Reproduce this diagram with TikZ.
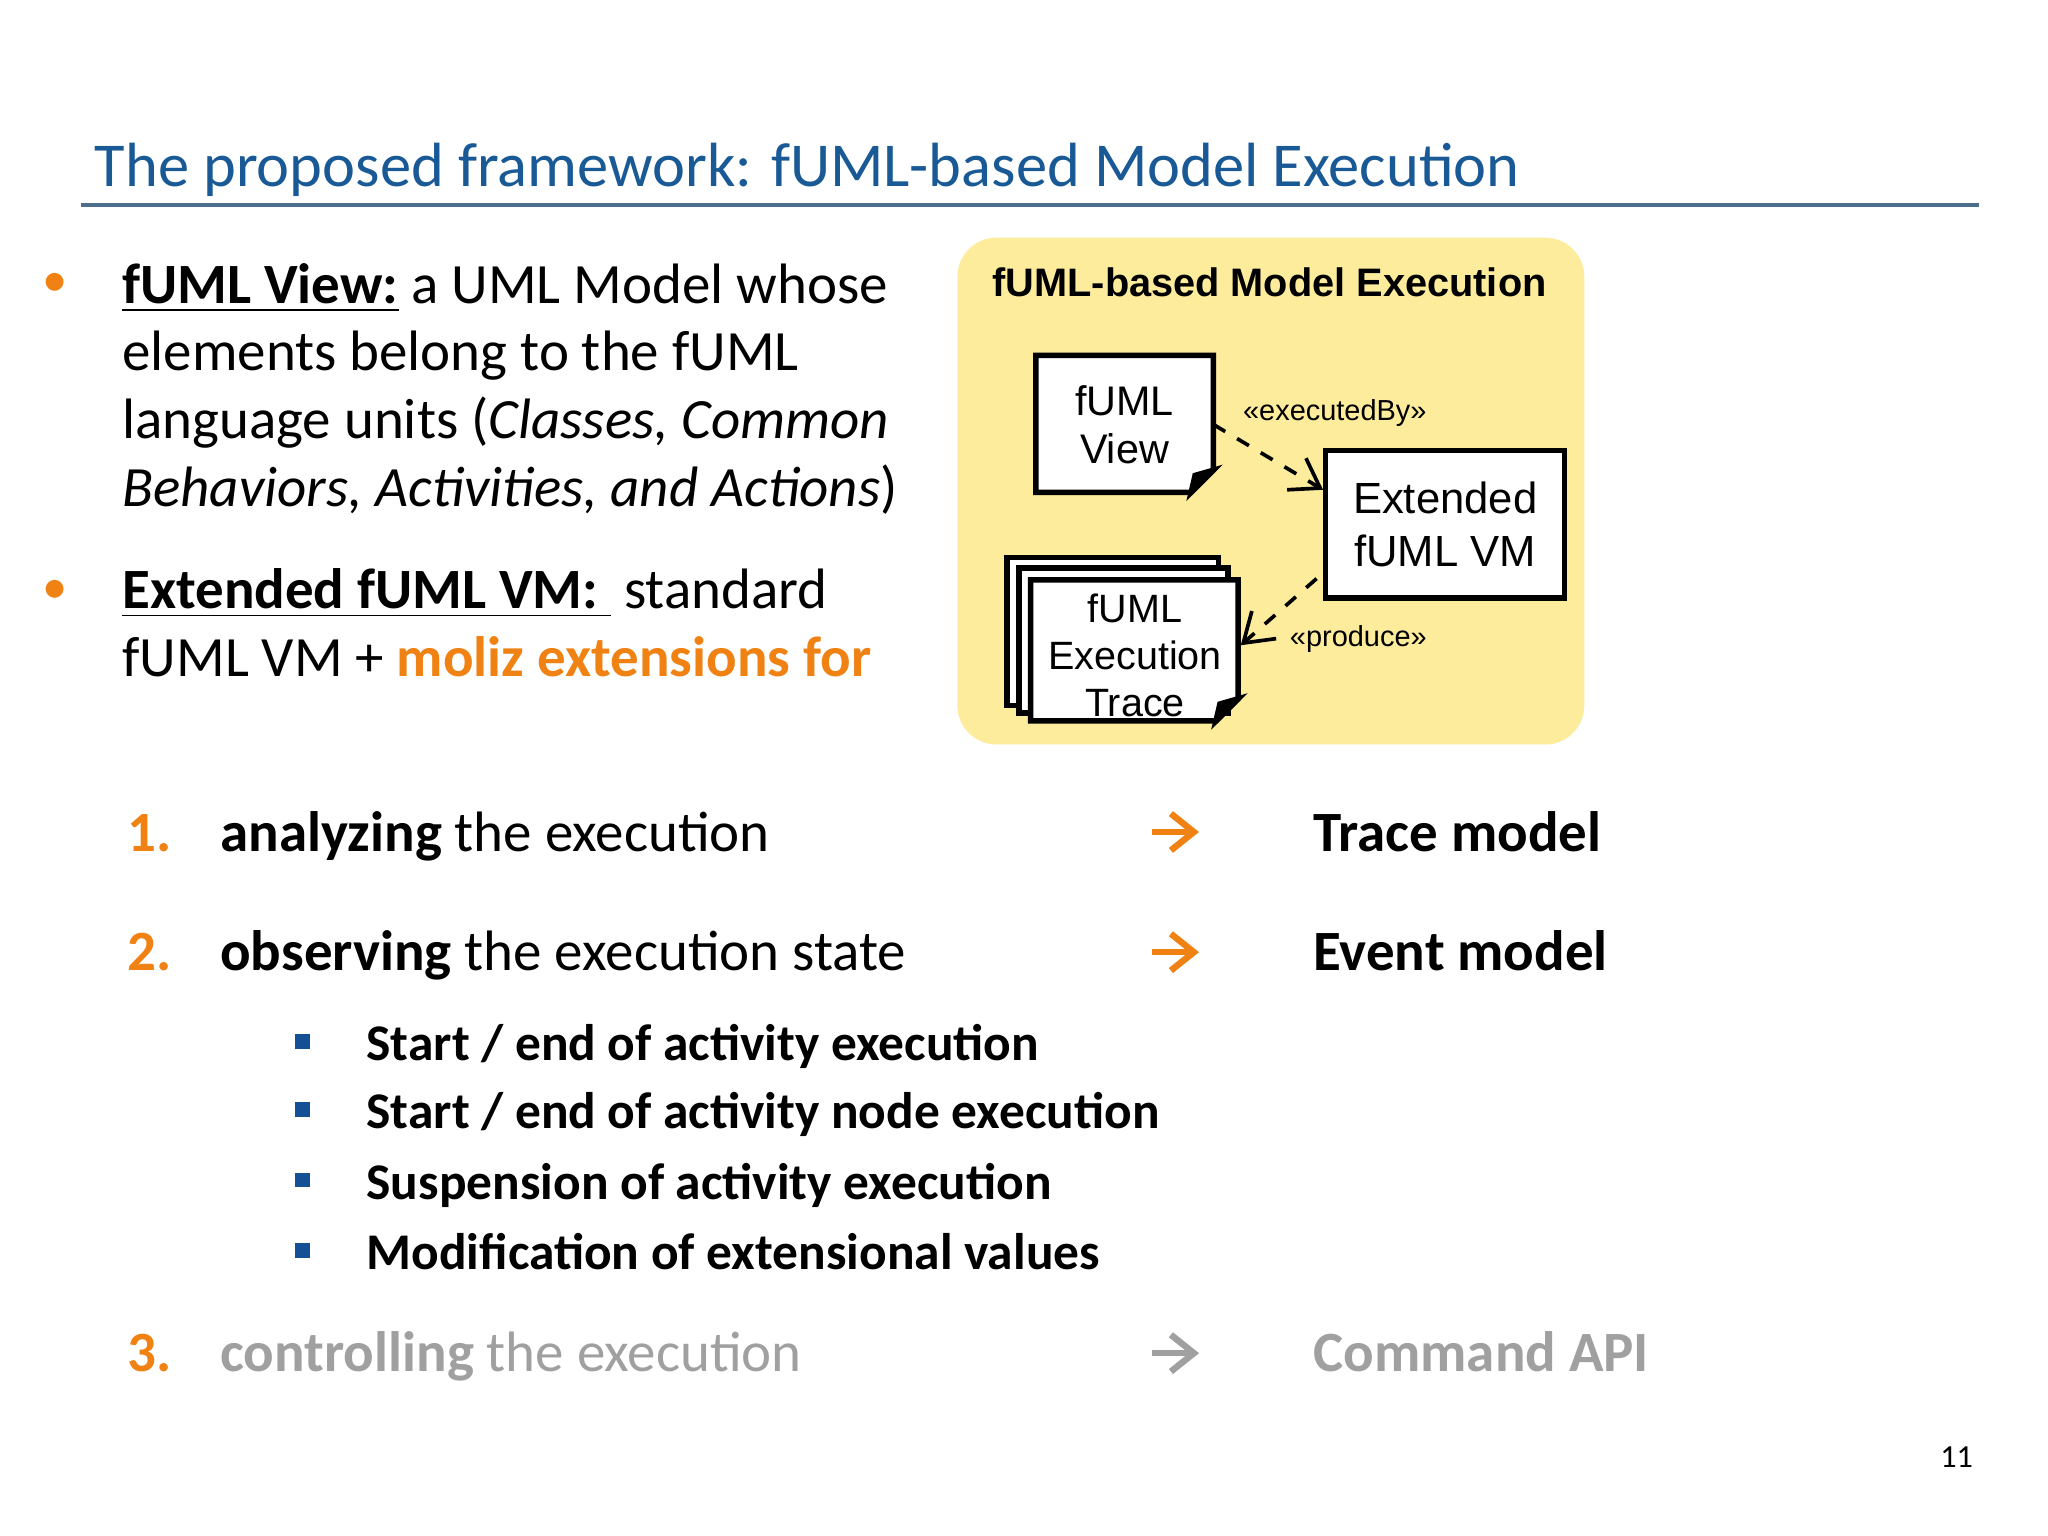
\documentclass[tikz,border=0pt]{standalone}
\usepackage{fontspec}
\setmainfont{Carlito}
\newfontfamily\arial{Liberation Sans}
\usetikzlibrary{arrows.meta}
\definecolor{tblue}{RGB}{25,90,150}
\definecolor{oran}{RGB}{240,130,20}
\definecolor{yel}{RGB}{253,236,155}
\definecolor{gtxt}{RGB}{160,160,160}
\definecolor{sqblue}{RGB}{20,80,150}
\begin{document}
\begin{tikzpicture}[x=0.01cm,y=-0.01cm,
 body/.style={anchor=base west,inner sep=0,font=\fontsize{12.4}{14}\selectfont},
 num/.style={anchor=base west,inner sep=0,font=\fontsize{12.4}{14}\selectfont},
 uml/.style={draw,line width=1.2pt,fill=white},
 lbl/.style={font=\arial\fontsize{6.3}{7}\selectfont,inner sep=0},
 arr/.style={-{Straight Barb[length=5pt,width=8pt]},line width=1.4pt}]
\useasboundingbox (0,0) rectangle (1568,1176);
\fill[white] (0,0) rectangle (1568,1176);
\node[anchor=base west,inner sep=0,text=tblue,font=\fontsize{13.6}{15}\selectfont] (title) at (72,143) {The proposed framework: fUML-based Model Execution};
\draw[color=tblue!50!gray,line width=1pt] (62,157) -- (1515,157);
% bullets
\node[text=oran,font=\fontsize{11}{12}\selectfont,inner sep=0] (b1) at (42,218) {•};
\node[text=oran,font=\fontsize{11}{12}\selectfont,inner sep=0] (b2) at (42,453) {•};
\node[body] (l1) at (93,232) {\textbf{\underline{fUML View:}} a UML Model whose};
\node[body] (l2) at (93,284) {elements belong to the fUML};
\node[body] (l3) at (93,336) {language units (\textit{Classes, Common}};
\node[body] (l4) at (93,388) {\textit{Behaviors, Activities, and Actions})};
\node[body] (l5) at (93,466) {\textbf{\underline{Extended fUML VM:\ }} standard};
\node[body] (l6) at (93,518) {fUML VM + \textcolor{oran}{\textbf{moliz extensions for}}};
% yellow box
\fill[yel,rounded corners=8.5pt] (733,182) rectangle (1213,570);
\node[font=\arial\bfseries\fontsize{8.65}{9.5}\selectfont,inner sep=0] (yt) at (972,216) {fUML-based Model Execution};
% fUML view
\draw[uml] (793,272) -- (929,272) -- (929,360) -- (912,377) -- (793,377) -- cycle;
\draw[line width=1.2pt,fill=black] (929,360) -- (915,364) -- (912,377) -- cycle;
\node[align=center,inner sep=0,font=\arial\fontsize{9}{10.5}\selectfont] (fv) at (861,325) {fUML\\View};
\coordinate (fvr) at (929,325);
% VM
\draw[uml] (1015,345) rectangle (1198,458);
\node[inner sep=0,align=center,font=\arial\fontsize{9.5}{11.5}\selectfont] (vm) at (1106.5,401.5) {Extended\\fUML VM};
\coordinate (vmin) at (1013,375);
\coordinate (vmout) at (1008,443);
% trace stack
\draw[uml] (771,427) rectangle (933,540);
\draw[uml] (780,435) rectangle (940,546);
\draw[uml] (789,444) -- (948,444) -- (948,535) -- (931,552) -- (789,552) -- cycle;
\draw[line width=1.2pt,fill=black] (948,535) -- (934,539) -- (931,552) -- cycle;
\node[align=center,inner sep=0,font=\arial\fontsize{8.6}{10.2}\selectfont] (tr) at (869,502) {fUML\\Execution\\Trace};
\coordinate (trr) at (950,494);
% connectors
\draw[dashed,line width=0.8pt,-{Straight Barb[length=6pt,width=8pt]}] (fvr) -- (vmin);
\draw[dashed,line width=0.8pt,-{Straight Barb[length=6pt,width=8pt]}] (vmout) -- (trr);
\node[lbl] (e1) at (1022,316) {«executedBy»};
\node[lbl] (e2) at (1040,489) {«produce»};
% numbered items
\node[num,text=oran] (n1) at (97,652) {\textbf{1.}};
\node[num] (t1) at (168,652) {\textbf{analyzing} the execution};
\coordinate (a1s) at (882,637); \coordinate (a1e) at (918,637);
\draw[arr,oran] (a1s) -- (a1e);
\node[num] (m1) at (1005,652) {\textbf{Trace model}};
\node[num,text=oran] (n2) at (97,743) {\textbf{2.}};
\node[num] (t2) at (168,743) {\textbf{observing} the execution state};
\coordinate (a2s) at (882,729); \coordinate (a2e) at (918,729);
\draw[arr,oran] (a2s) -- (a2e);
\node[num] (m2) at (1005,743) {\textbf{Event model}};
\foreach \y/\t [count=\i] in {812/{Start / end of activity execution},864/{Start / end of activity node execution},918/{Suspension of activity execution},972/{Modification of extensional values}}{
 \fill[sqblue] (226,\y-20) rectangle (237,\y-9);
 \node[num,font=\bfseries\fontsize{11.2}{13}\selectfont] (s\i) at (280,\y) {\t};
}
\node[num,text=oran] (n3) at (97,1050) {\textbf{3.}};
\node[num,text=gtxt] (t3) at (168,1050) {\textbf{controlling} the execution};
\coordinate (a3s) at (882,1036); \coordinate (a3e) at (918,1036);
\draw[arr,gtxt] (a3s) -- (a3e);
\node[num,text=gtxt] (m3) at (1005,1050) {\textbf{Command API}};
\node[font=\fontsize{7}{8}\selectfont,inner sep=0] (pg) at (1498,1116) {11};
\end{tikzpicture}
\end{document}
